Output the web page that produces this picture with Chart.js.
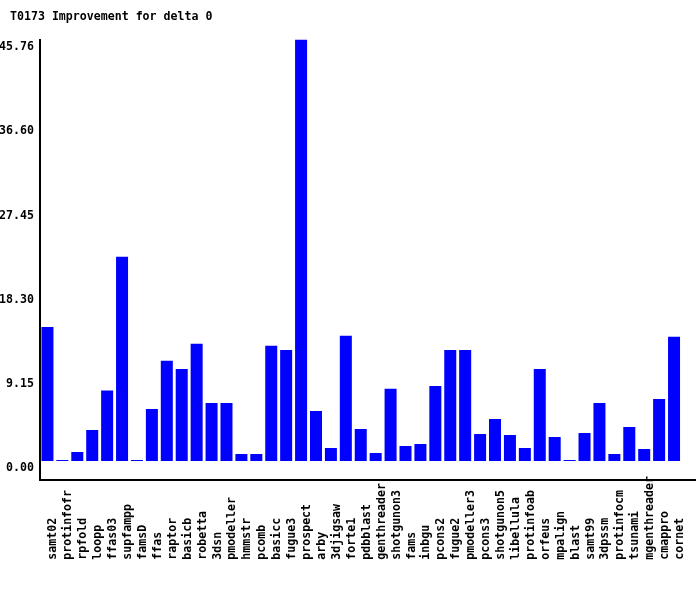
<!DOCTYPE html>
<html>
<head>
<meta charset="utf-8">
<script src="https://cdn.jsdelivr.net/npm/chart.js@4"></script>
<style>
  html, body { margin: 0; padding: 0; background: #ffffff; }
  #wrap { width: 700px; height: 590px; }
</style>
</head>
<body>
<div id="wrap"><canvas id="c" width="700" height="590"></canvas></div>
<script>
const chartTitle = "T0173 Improvement for delta 0";
const categories = [
  "samt02", "protinfofr", "rpfold", "loopp", "ffas03", "supfampp", "famsD", "ffas",
  "raptor", "basicb", "robetta", "3dsn", "pmodeller", "hmmstr", "pcomb", "basicc",
  "fugue3", "prospect", "arby", "3djigsaw", "forte1", "pdbblast", "genthreader",
  "shotgunon3", "fams", "inbgu", "pcons2", "fugue2", "pmodeller3", "pcons3",
  "shotgunon5", "libellula", "protinfoab", "orfeus", "mpalign", "blast", "samt99",
  "3dpssm", "protinfocm", "tsunami", "mgenthreader", "cmappro", "cornet"
];
const improvement = [
  14.56, 0.1, 0.98, 3.37, 7.64, 22.17, 0.1, 5.65,
  10.87, 10.0, 12.72, 6.30, 6.30, 0.76, 0.76, 12.50,
  12.06, 45.76, 5.43, 1.41, 13.59, 3.48, 0.87,
  7.83, 1.63, 1.85, 8.15, 12.06, 12.06, 2.93,
  4.57, 2.83, 1.41, 10.0, 2.61, 0.1, 3.04,
  6.30, 0.76, 3.70, 1.30, 6.74, 13.48
];
const yTickLabels = ["0.00", "9.15", "18.30", "27.45", "36.60", "45.76"];

const FONT = { family: "'DejaVu Sans Mono', 'Liberation Mono', monospace", size: 11.6, weight: 'bold' };
const labelLen = Math.max(...categories.map(s => s.length));

function noLabelClip(scale) {
  scale._computeLabelArea = function () { return undefined; };
}

const axisExtend = {
  id: 'axisExtend',
  afterDraw(chart) {
    const ctx = chart.ctx, a = chart.chartArea;
    ctx.save();
    ctx.strokeStyle = '#000000';
    ctx.lineWidth = 2;
    ctx.beginPath();
    ctx.moveTo(a.left, a.bottom);
    ctx.lineTo(696, a.bottom);
    ctx.stroke();
    ctx.restore();
  }
};

new Chart(document.getElementById('c'), {
  type: 'bar',
  data: {
    labels: categories,
    datasets: [{
      data: improvement,
      backgroundColor: '#0000ff',
      borderWidth: 0,
      barPercentage: 0.805,
      categoryPercentage: 1.0
    }]
  },
  options: {
    responsive: false,
    animation: false,
    devicePixelRatio: 1,
    layout: { padding: { left: 10, right: 18.5, top: 0, bottom: 0 } },
    plugins: {
      legend: { display: false },
      tooltip: { enabled: false },
      title: {
        display: true,
        text: chartTitle,
        align: 'start',
        color: '#000000',
        font: FONT,
        padding: { top: 10, bottom: 15.6 }
      }
    },
    scales: {
      x: {
        type: 'category',
        grid: { display: false, drawTicks: false },
        border: { display: true, color: '#000000', width: 2 },
        afterFit(scale) { scale.height = 110; noLabelClip(scale); },
        ticks: {
          autoSkip: false,
          minRotation: 90,
          maxRotation: 90,
          padding: -4,
          labelOffset: 6,
          color: '#000000',
          font: FONT,
          callback(value, index) { return categories[index].padEnd(labelLen, ' '); }
        }
      },
      y: {
        type: 'linear',
        min: -2.065,
        max: 45.76,
        grid: { display: false, drawTicks: false },
        border: { display: true, color: '#000000', width: 2 },
        afterFit(scale) { scale.width = 30; noLabelClip(scale); },
        afterBuildTicks(scale) {
          scale.ticks = yTickLabels.map(t => ({ value: parseFloat(t) }));
        },
        ticks: {
          padding: 6,
          labelOffset: 7.5,
          color: '#000000',
          font: FONT,
          callback(value, index) { return yTickLabels[index]; }
        }
      }
    }
  },
  plugins: [axisExtend]
});
</script>
</body>
</html>
